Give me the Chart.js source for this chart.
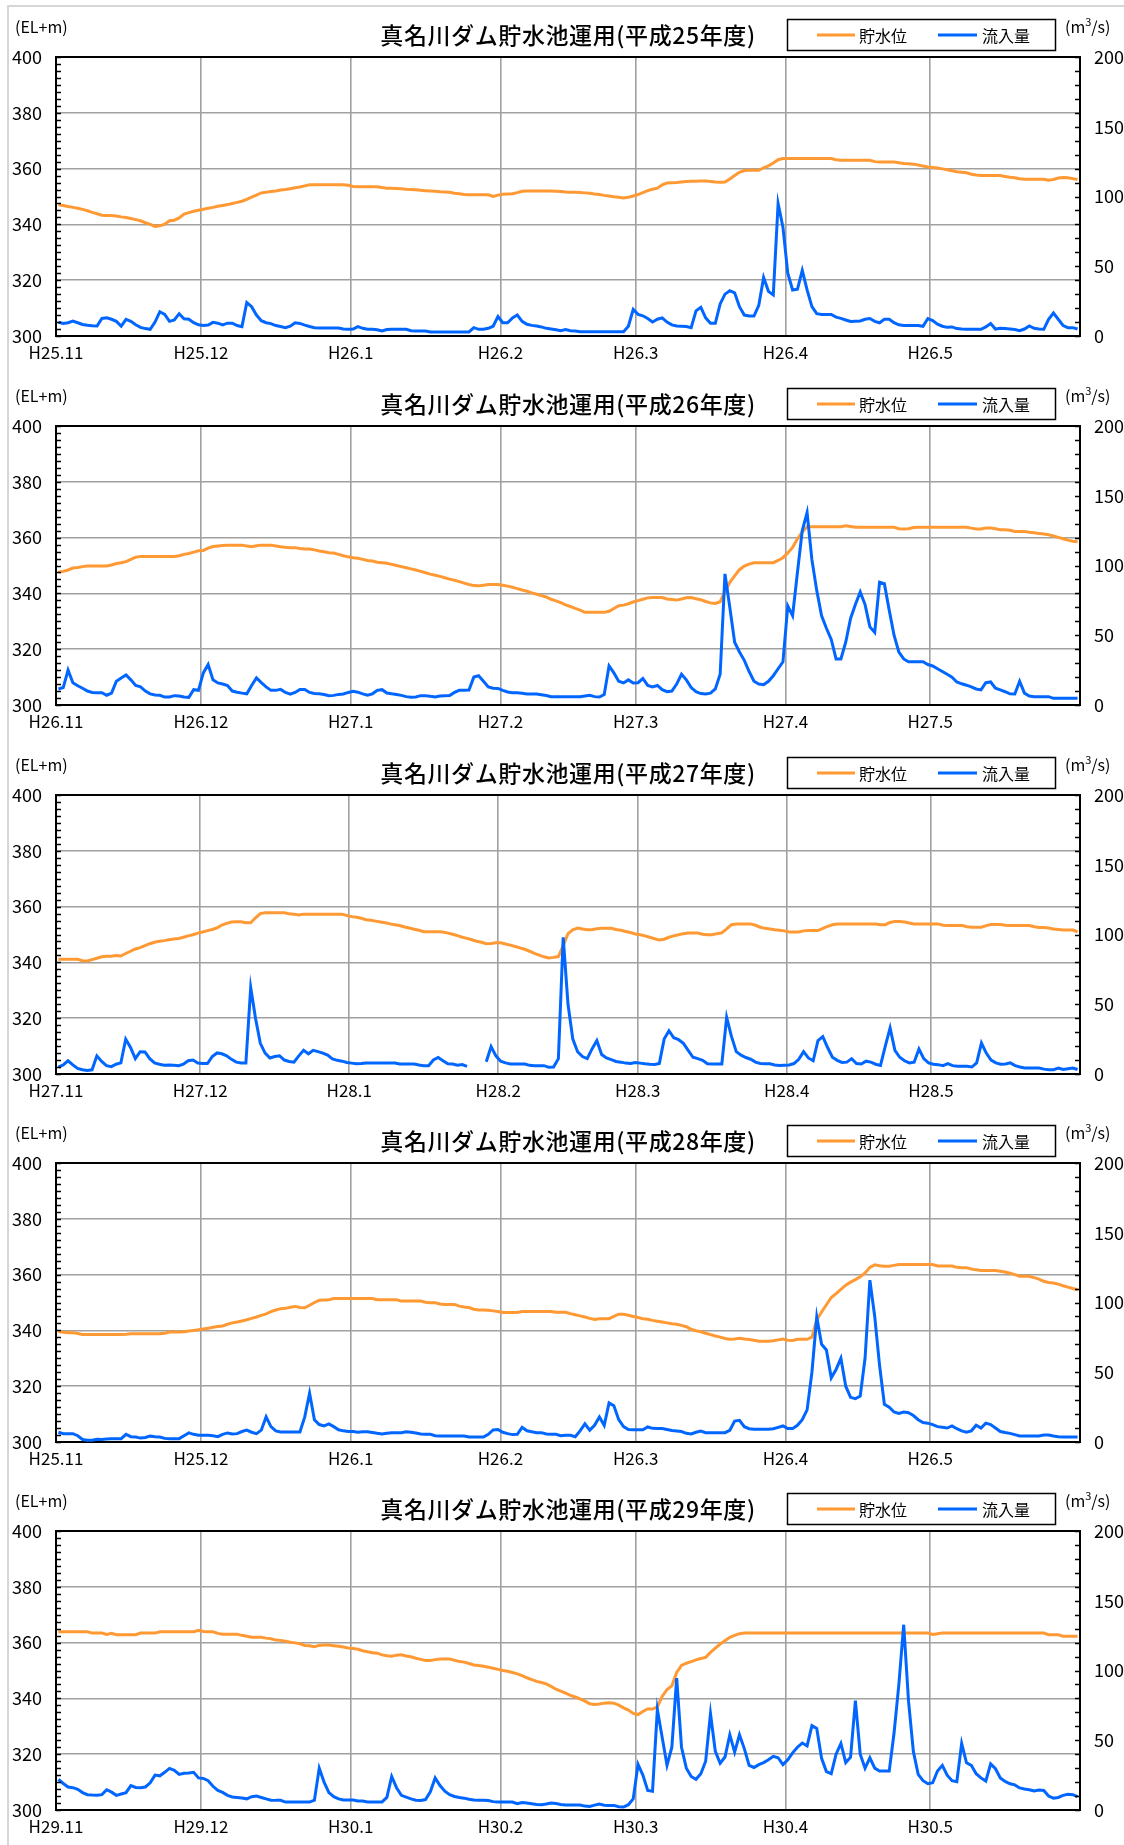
<!DOCTYPE html>
<html>
<head>
<meta charset="utf-8">
<script src="https://cdn.jsdelivr.net/npm/chart.js@4.4.1/dist/chart.umd.min.js"></script>
<style>
  html, body { margin: 0; padding: 0; background: #fff; }
  #page { position: relative; width: 1124px; height: 1845px; overflow: hidden; }
  #frame { position: absolute; left: 7px; top: 5px; width: 1130px; height: 1850px;
           border-left: 2px solid #d6d6d6; border-top: 2px solid #d6d6d6; }
  canvas.panel { position: absolute; left: 0; }
</style>
</head>
<body>
<div id="page">
  <div id="frame"></div>
  <canvas class="panel" id="c0" width="1124" height="369" style="top:0px"></canvas>
  <canvas class="panel" id="c1" width="1124" height="369" style="top:369px"></canvas>
  <canvas class="panel" id="c2" width="1124" height="369" style="top:738px"></canvas>
  <canvas class="panel" id="c3" width="1124" height="369" style="top:1106px"></canvas>
  <canvas class="panel" id="c4" width="1124" height="369" style="top:1474px"></canvas>
</div>
<script>
// ---- 年度ごとの表示設定 ----
const fiscalYears = [25, 26, 27, 28, 29];
const seriesNames = ['貯水位', '流入量'];

const monthLabels25 = ['H25.11', 'H25.12', 'H26.1', 'H26.2', 'H26.3', 'H26.4', 'H26.5'];
const monthLabels26 = ['H26.11', 'H26.12', 'H27.1', 'H27.2', 'H27.3', 'H27.4', 'H27.5'];
const monthLabels27 = ['H27.11', 'H27.12', 'H28.1', 'H28.2', 'H28.3', 'H28.4', 'H28.5'];
const monthLabels28 = ['H25.11', 'H25.12', 'H26.1', 'H26.2', 'H26.3', 'H26.4', 'H26.5'];
const monthLabels29 = ['H29.11', 'H29.12', 'H30.1', 'H30.2', 'H30.3', 'H30.4', 'H30.5'];

// 11月〜5月の各月の日数
const monthDays = [30, 31, 31, 28, 31, 30, 31];
const monthDaysLeap = [30, 31, 31, 29, 31, 30, 31];

// ---- 日別データ (貯水位 EL+m / 流入量 m3/s) ----
const level25 = [
  347,346.8,346.4,346.1,345.8,345.4,344.9,344.3,343.8,343.3,
  343.2,343.2,343.0,342.7,342.5,342.1,341.7,341.3,340.6,340.0,
  339.3,339.5,340.1,341.3,341.5,342.3,343.7,344.2,344.7,345.1,
  345.4,345.8,346.1,346.5,346.8,347.1,347.5,347.9,348.3,349.0,
  349.8,350.5,351.3,351.5,351.8,352.0,352.3,352.5,352.8,353.1,
  353.4,353.8,354.2,354.2,354.2,354.2,354.2,354.2,354.2,354.2,
  354.0,353.6,353.5,353.5,353.5,353.5,353.5,353.2,353.0,353.0,
  352.9,352.8,352.6,352.5,352.4,352.2,352.1,352.0,351.9,351.7,
  351.6,351.5,351.2,351.0,350.7,350.6,350.6,350.6,350.6,350.6,
  350.0,350.5,350.8,350.9,351.0,351.4,351.9,352.0,352.0,352.0,
  352.0,352.0,352.0,351.9,351.8,351.6,351.5,351.5,351.4,351.3,
  351.2,350.9,350.7,350.4,350.2,349.9,349.7,349.5,349.7,350.2,
  350.7,351.4,352.1,352.6,353.0,354.2,354.8,354.9,355.0,355.2,
  355.4,355.5,355.5,355.6,355.6,355.4,355.2,355.1,355.2,356.3,
  357.5,358.7,359.3,359.4,359.4,359.4,360.3,361.0,362.0,363.2,
  363.6,363.6,363.6,363.6,363.6,363.6,363.6,363.6,363.6,363.6,
  363.6,363.2,363.0,363.0,363.0,363.0,363.0,363.0,363.0,362.5,
  362.4,362.4,362.4,362.4,362.1,361.8,361.7,361.6,361.3,360.9,
  360.6,360.4,360.2,359.9,359.6,359.2,358.9,358.7,358.5,358.0,
  357.7,357.5,357.5,357.5,357.5,357.5,357.2,356.9,356.7,356.4,
  356.2,356.2,356.2,356.2,356.2,355.8,356.1,356.6,356.8,356.7,
  356.4,356.1
];
const inflow25 = [
  9.8,9,9.5,10.7,9.5,8.3,7.7,7.4,7.2,12.6,
  13,12,10.5,7,11.9,10.5,8,6.2,5.3,4.8,
  10,17.4,15.5,10.5,11.5,16,12.4,12,9.5,8,
  7.6,7.8,9.8,9.2,8,9.2,9.2,7.5,6.7,24,
  21,15,11,9.5,8.9,7.5,6.8,6,7,9.5,
  9,7.8,6.8,5.9,5.7,5.7,5.7,5.7,5.7,5,
  4.8,5,6.7,5.5,4.8,4.8,4.5,3.6,4.6,4.8,
  4.8,4.8,4.8,3.8,3.6,3.6,3.6,2.9,2.9,2.9,
  2.9,2.9,2.9,2.9,2.9,2.9,6,4.8,4.8,5.5,
  7,14,9.5,9.5,13,15,10.5,8.4,7.6,7.1,
  6.5,5.5,5,4.5,3.8,4.6,3.8,3.5,3.1,3.1,
  3.1,3.1,3.1,3.1,3.1,3.1,3.1,3.1,7,19,
  15.5,14.5,12.5,10,12,13,10,8,7.2,7,
  6.8,6,18,20.5,13,9.2,9.1,23,30,32.5,
  31,21,15,14.3,14.3,22,42,32,29.5,95,
  78,45,33,33.5,47,33,21,16,15.5,15.5,
  15.5,13.5,12.6,11.5,10.4,10.6,10.8,12,12.5,10.5,
  9.5,12,12,9.5,8,7.6,7.6,7.6,7.6,7,
  12.5,11,8.5,7,6.2,6.5,5.3,5,4.8,4.8,
  4.8,4.8,6.5,9,5,5.5,5.3,5,4.6,3.8,
  5,7.2,5.5,5,4.8,12,16.5,12,7.5,6,
  6,5
];

const level26 = [
  347.6,347.9,348.4,349.1,349.3,349.6,349.8,349.8,349.8,349.8,
  349.8,350.2,350.7,351.0,351.4,352.2,353.0,353.2,353.2,353.2,
  353.2,353.2,353.2,353.2,353.2,353.5,354.0,354.3,354.8,355.3,
  355.4,356.2,356.8,357.0,357.2,357.3,357.3,357.3,357.3,357.0,
  356.7,357.1,357.3,357.3,357.3,357.0,356.7,356.5,356.4,356.4,
  356.1,355.9,355.9,355.6,355.2,354.9,354.6,354.5,354.0,353.5,
  353.1,352.8,352.6,352.2,351.8,351.6,351.2,351.0,350.8,350.4,
  350.0,349.6,349.2,348.8,348.4,347.9,347.4,346.9,346.5,346.1,
  345.6,345.1,344.7,344.2,343.7,343.2,342.8,342.7,342.9,343.2,
  343.2,343.2,342.9,342.6,342.2,341.7,341.2,340.8,340.2,339.7,
  339.2,338.7,337.9,337.3,336.7,335.9,335.3,334.6,334.0,333.2,
  333.2,333.2,333.2,333.2,333.6,334.6,335.6,335.8,336.3,336.9,
  337.4,337.9,338.4,338.5,338.5,338.5,338.0,337.8,337.6,338.0,
  338.4,338.5,338.1,337.7,337.1,336.6,336.4,337.0,340.5,344.0,
  346.3,348.5,349.8,350.5,351.0,351.0,351.0,351.0,351.0,351.8,
  352.8,354.5,356.5,359.5,362.0,363.9,363.9,363.9,363.9,363.9,
  363.9,363.9,363.9,364.2,364.0,363.7,363.7,363.7,363.7,363.7,
  363.7,363.7,363.7,363.7,363.2,363.1,363.2,363.6,363.7,363.7,
  363.7,363.7,363.7,363.7,363.7,363.7,363.7,363.7,363.7,363.4,
  363.1,363.1,363.4,363.4,363.2,362.8,362.8,362.6,362.2,362.2,
  362.2,361.9,361.7,361.5,361.3,361.0,360.6,360.1,359.6,359.1,
  358.7,358.5
];
const inflow26 = [
  11.5,12.5,25,16,13.8,12,10,9,8.8,8.8,
  7,8.5,17,19.4,21.5,18,14,13,10,8,
  7.2,7,5.7,5.8,6.7,6.5,5.7,5.5,11,10.5,
  23,29,18,15.8,15,14,10,9.2,8.5,8,
  14,19.4,16,13,10.5,10.5,11.2,9,7.8,9,
  11.2,11.2,9,8.2,8,7.5,6.7,6.9,7.6,7.9,
  9,9.8,9.2,8,7,8,10.5,11,8.6,8,
  7.5,6.9,6,5.5,5.8,6.7,6.7,6.2,5.8,6.5,
  6.7,6.8,9,10.5,10.6,10.8,20,21,17,13,
  12,11.9,10.5,9.3,8.8,8.8,8.4,7.9,7.9,7.9,
  7.4,6.8,6,6,6,6,6,6,6,6.5,
  7,6,5.7,7.5,28,23,17,15.8,18,15.8,
  16,19,14,13,14,11,9.5,10,15,22,
  18,12.5,9.5,8.2,7.9,8.5,11.5,22,94,70,
  45,38,32,24,17,15,14.5,17,21,26,
  31,71,64,95,125,138,104,82,64,55,
  47,33,33,45,62,72,81,72,56,52,
  88,87,68,50,38,33,31,31,31,31,
  29,28,26,24,22,20,16.5,15.2,14.2,13,
  11.5,10.8,16,16.5,12,10.8,9.5,8,7.9,17,
  8.5,6.5,6,6,6,6,4.8,4.8,4.8,4.8,
  4.8,4.8
];

const level27 = [
  341.1,341.1,341.1,341.1,341.1,340.6,340.5,341.0,341.5,342.0,
  342.2,342.2,342.5,342.3,343.2,344.0,344.8,345.3,346.0,346.7,
  347.2,347.6,347.8,348.1,348.4,348.6,349.0,349.5,349.9,350.5,
  350.9,351.4,351.8,352.4,353.4,354.0,354.5,354.6,354.6,354.2,
  354.2,356.0,357.5,357.8,357.8,357.8,357.8,357.8,357.4,357.3,
  357.0,357.3,357.3,357.3,357.3,357.3,357.3,357.3,357.3,357.3,
  356.8,356.4,356.2,355.8,355.3,355.1,354.8,354.5,354.2,353.8,
  353.5,353.2,352.7,352.3,351.9,351.5,351.0,351.0,351.0,351.0,
  350.9,350.5,350.1,349.6,349.0,348.6,348.1,347.6,347.2,346.7,
  346.8,347.0,347.0,346.6,346.2,345.7,345.2,344.7,344.0,343.2,
  342.6,342.0,341.6,341.8,342.1,346.0,350.3,351.7,352.3,352.0,
  351.7,351.7,352.1,352.2,352.2,352.2,351.8,351.5,351.1,350.7,
  350.2,349.9,349.5,349.0,348.5,348.0,348.3,349.0,349.5,349.9,
  350.3,350.5,350.5,350.5,350.1,349.9,349.9,350.3,350.6,352.0,
  353.5,353.8,353.8,353.8,353.8,353.3,352.6,352.2,352.0,351.7,
  351.5,351.3,350.9,350.9,350.9,351.3,351.4,351.4,351.4,352.2,
  352.9,353.5,353.8,353.8,353.8,353.8,353.8,353.8,353.8,353.8,
  353.8,353.5,353.5,354.3,354.7,354.7,354.5,354.1,353.8,353.8,
  353.8,353.8,353.8,353.8,353.3,353.2,353.2,353.2,353.2,352.8,
  352.6,352.6,352.6,353.2,353.6,353.6,353.6,353.3,353.2,353.2,
  353.2,353.2,353.2,352.8,352.5,352.5,352.3,352.0,351.8,351.6,
  351.6,351.6,351.0
];
const inflow27 = [
  5,6.5,9.5,6.5,4,3,2.5,3,13,9,
  6,5.3,7,8,25,19,11,16,15.8,11,
  8,7,6.3,6.5,6.3,6,7,9.5,10,7.9,
  7.5,7.5,12.5,15.1,14.5,13,10.5,8.5,7.9,7.9,
  62,40,22,15,11.5,12.5,13,10,9,8.5,
  13,17,14.5,17,16,15,13.5,10.8,9.8,9.2,
  8.3,7.8,7.3,7.5,7.9,7.9,7.9,7.9,7.9,7.9,
  7.9,7.2,7.2,7.2,7.2,6.5,6,6,10,11.9,
  9.5,7.3,7.2,6.3,6.8,5.5,null,null,null,8.8,
  19.6,13,9.2,8,7.2,7.2,7.2,7.2,6.2,6,
  6,6,4.8,5,11,98,50,25,16,12.5,
  11,18,24,14,11.5,10.3,9,8.5,7.8,7.5,
  8.2,7.8,7.3,7,6.8,7.6,25,31,26,24.6,
  22,17,12,11,9.8,7.3,7.2,7.2,7.2,40.6,
  27,16,13.5,11.8,10.6,8.5,7.6,7.3,7.3,6.5,
  6.1,6.3,6.5,7.5,10.5,16,11.5,9.5,24,26.8,
  19,12,9.8,8.3,8.5,11,7.5,7.2,9.2,8.5,
  7,6.2,20,33,17,12,9.5,7.9,8.5,17.9,
  11,8,7,6.7,6,7.5,6,5.5,5.5,5.5,
  5,8,22.2,15,10,8,7,7.2,8,6,
  5,4.3,4.3,4.3,4.3,3.5,3.1,3.1,4.3,3.2,
  3.8,4.3,3.2
];

const level28 = [
  339.6,339.3,339.2,339.2,338.9,338.5,338.5,338.5,338.5,338.5,
  338.5,338.5,338.5,338.5,338.6,338.8,338.8,338.8,338.8,338.8,
  338.8,338.8,339.0,339.4,339.4,339.4,339.5,339.8,340.0,340.2,
  340.5,340.8,341.1,341.4,341.6,342.2,342.7,343.0,343.4,343.8,
  344.3,344.8,345.4,345.9,346.7,347.3,347.8,347.9,348.3,348.6,
  348.2,348.1,349.0,350.0,350.8,350.9,351.0,351.4,351.4,351.4,
  351.4,351.4,351.4,351.4,351.4,351.4,351.0,351.0,351.0,351.0,
  351.0,350.5,350.5,350.5,350.5,350.5,350.1,349.9,349.9,349.5,
  349.3,349.3,349.3,348.7,348.4,348.2,347.6,347.3,347.3,347.2,
  347.0,346.8,346.4,346.4,346.4,346.4,346.8,346.8,346.8,346.8,
  346.8,346.8,346.8,346.5,346.5,346.5,346.0,345.6,345.2,344.8,
  344.3,343.9,344.2,344.2,344.2,345.0,345.8,345.8,345.4,345.0,
  344.6,344.2,344.0,343.6,343.3,343.0,342.7,342.4,342.2,341.8,
  341.3,340.4,339.9,339.5,339.0,338.5,338.0,337.6,337.1,336.8,
  336.9,337.2,336.9,336.7,336.5,336.1,336.1,336.1,336.3,336.6,
  336.9,336.5,336.4,336.8,336.8,336.8,337.6,343.8,346.6,349.2,
  351.8,353.2,354.7,356.2,357.3,358.2,359.2,360.6,362.6,363.5,
  363.2,363.0,363.0,363.3,363.6,363.6,363.6,363.6,363.6,363.6,
  363.6,363.6,363.1,363.1,363.1,363.1,362.6,362.5,362.5,362.0,
  361.7,361.5,361.5,361.5,361.5,361.2,360.9,360.5,360.0,359.4,
  359.4,359.4,358.9,358.4,357.6,357.2,357.0,356.6,356.0,355.5,
  355.0,354.6
];
const inflow28 = [
  7,6,6,6,4.5,1.8,1.2,1.2,2,1.8,
  2.2,2.4,2.4,2.4,5.5,3.8,3.6,2.8,3.2,4.2,
  3.8,3.6,2.6,2.4,2.4,2.4,4.5,6.5,5.5,4.8,
  4.8,4.8,4.5,3.8,5.5,6.5,5.8,6,7.5,8.5,
  7,6,8.5,18,11,8,7.2,7.2,7.2,7.2,
  7.2,18,35,16,12.5,11.5,13,11,8.8,8,
  7.6,7.6,7,7.3,7.3,6.8,6.2,5.7,6.2,6.7,
  6.7,6.7,7.4,7,6.4,5.7,5.5,5.5,4.5,4.3,
  4.3,4.3,4.3,4.3,4.3,3.6,3.6,3.6,3.6,5.5,
  8.6,9,7,6,5.3,5.5,10.5,8,7.3,6.7,
  6.7,5.7,5.5,5.5,4.5,4.8,4.8,3.8,8,13,
  8.5,12,18,12,28,26,16,11,9,8.8,
  8.8,8.8,10.8,9.8,9.6,9.6,9,8.2,7.9,7.5,
  6.2,5.8,7,7.8,6.7,6.7,6.7,6.7,6.7,8.4,
  15,15.5,11,9.5,9.1,9.1,9.1,9.1,9.5,10.5,
  11.5,9.6,9.6,12,16,23,50,89.6,70,66,
  46,52,60,40,32,31,33,60,116,90,
  55,27,25,21.5,20.5,21.5,21,19,16,14,
  13.5,12.5,11,10.5,10,11.5,9.5,8,7,8,
  12,10,13.5,12.5,10,7.5,6.8,6.2,5.3,4.3,
  4.3,4.3,4.3,4.3,5,5,4.3,3.8,3.6,3.6,
  3.6,3.6
];

const level29 = [
  363.9,363.9,363.9,363.9,363.9,363.9,363.9,363.4,363.4,363.4,
  362.9,363.3,362.8,362.8,362.8,362.8,362.8,363.4,363.4,363.4,
  363.4,363.9,363.9,363.9,363.9,363.9,363.9,363.9,363.9,364.4,
  364.0,363.9,363.9,363.3,363.0,363.0,363.0,363.0,362.6,362.3,
  361.9,361.9,361.9,361.6,361.4,360.9,360.8,360.5,360.1,359.9,
  359.6,359.0,358.9,358.5,359.0,359.1,359.1,358.9,358.7,358.4,
  358.1,357.9,357.6,357.1,356.7,356.4,356.2,355.6,355.3,355.1,
  355.5,355.6,355.2,354.9,354.4,354.0,353.6,353.6,353.9,354.1,
  354.1,354.1,353.7,353.2,353.0,352.5,352.0,351.8,351.5,351.2,
  350.8,350.4,350.0,349.7,349.3,348.8,348.2,347.4,346.7,346.1,
  345.7,345.2,344.3,343.3,342.6,341.9,341.1,340.5,339.8,339.0,
  338.1,337.8,338.0,338.3,338.4,338.3,337.6,336.6,335.8,334.6,
  334.2,335.3,336.2,336.2,337.0,340.7,343.2,344.5,349.3,351.8,
  352.6,353.2,353.8,354.3,354.7,356.5,358.0,359.5,360.7,361.9,
  362.6,363.2,363.4,363.4,363.4,363.4,363.4,363.4,363.4,363.4,
  363.4,363.4,363.4,363.4,363.4,363.4,363.4,363.4,363.4,363.4,
  363.4,363.4,363.4,363.4,363.4,363.4,363.4,363.4,363.4,363.4,
  363.4,363.4,363.4,363.4,363.4,363.4,363.4,363.4,363.4,363.4,
  363.4,362.9,363.2,363.4,363.4,363.4,363.4,363.4,363.4,363.4,
  363.4,363.4,363.4,363.4,363.4,363.4,363.4,363.4,363.4,363.4,
  363.4,363.4,363.4,363.4,363.4,362.8,362.8,362.8,362.3,362.3,
  362.3,362.3
];
const inflow29 = [
  22,19,16.5,16,14.8,12.5,11,10.7,10.5,11,
  14.5,12.8,10.5,11.5,12.4,17.5,16.2,16,16.5,19.5,
  25,24.5,27,29.8,28.5,25.5,26.3,26.5,27,23,
  22.6,21,17,14,12.6,10.5,9.3,9,8.6,8,
  9.5,10,9,8,7,6.9,6.9,5.7,5.7,5.7,
  5.7,5.7,5.7,7,30,20,12.5,9.5,8,7.2,
  7.1,7.1,6.5,6.4,5.8,5.8,5.8,5.8,9,24,
  16,10.5,9.2,8,7,6.9,7.5,13,23,17.5,
  13.5,11,9.7,9,8.5,7.7,7.2,7,7,6.8,
  6,5.7,5.7,5.7,5.7,4.5,5.3,5,4.5,4,
  3.7,4.3,5,4.6,3.9,3.6,3.6,3.6,3.6,2.8,
  2.6,3.5,4.3,3.4,3.3,3.3,2.3,2.1,3.8,8,
  32.7,25,14,13.5,72,52,32,45,94.6,45,
  30,24,22,26,35,69,42,33.5,38,54,
  41.5,54,44,32,30.5,32.5,34,36,38.5,37.5,
  32.5,36,41,45,48,46,60.5,58.4,37,27.5,
  26,40,47.7,34,37.9,78.4,40,30,37.4,30,
  28,27.9,27.9,55,90,132.8,78,42,25.5,21,
  18.8,19.5,28,32,25,21,20.3,47.7,33.8,32,
  26,23,20.7,33,29.6,23,20.5,18.8,18,15.8,
  15,14.5,13.6,14.3,14,10,8.5,9,10.5,11.2,
  11,9.5
];

// ---- 描画 ----
const COLOR_LEVEL = '#FF9933';
const COLOR_INFLOW = '#0066FF';
const GRID_COLOR = '#a0a0a0';
const FONT = '"Noto Sans CJK JP", "Noto Sans", sans-serif';

Chart.defaults.font.family = FONT;
Chart.defaults.color = '#000';

const panels = [
  { year: fiscalYears[0], labels: monthLabels25, days: monthDays,     level: level25, inflow: inflow25 },
  { year: fiscalYears[1], labels: monthLabels26, days: monthDays,     level: level26, inflow: inflow26 },
  { year: fiscalYears[2], labels: monthLabels27, days: monthDaysLeap, level: level27, inflow: inflow27 },
  { year: fiscalYears[3], labels: monthLabels28, days: monthDays,     level: level28, inflow: inflow28 },
  { year: fiscalYears[4], labels: monthLabels29, days: monthDays,     level: level29, inflow: inflow29 }
];

function monthStarts(days) {
  const starts = [0];
  for (let i = 0; i < days.length - 1; i++) starts.push(starts[i] + days[i]);
  return starts;
}

function daily(values) {
  return values.map((v, i) => ({ x: i + 0.5, y: v }));
}

// 枠線・補助目盛・タイトル・凡例・単位
const panelDecor = {
  id: 'panelDecor',
  afterDraw(chart, args, opts) {
    const { ctx, chartArea: a } = chart;
    const yL = chart.scales.yL, yR = chart.scales.yR;
    ctx.save();

    ctx.strokeStyle = '#000';
    ctx.lineWidth = 2;
    ctx.beginPath();
    ctx.moveTo(a.left - 1, a.top);
    ctx.lineTo(a.right + 1, a.top);
    ctx.stroke();

    ctx.lineWidth = 1.5;
    ctx.beginPath();
    for (let v = 300; v <= 400; v += 2.5) {
      const y = Math.round(yL.getPixelForValue(v)) + 0.5;
      ctx.moveTo(a.left, y);
      ctx.lineTo(a.left + 5, y);
    }
    for (let v = 0; v <= 200; v += 10) {
      const y = Math.round(yR.getPixelForValue(v)) + 0.5;
      ctx.moveTo(a.right, y);
      ctx.lineTo(a.right - 5, y);
    }
    ctx.stroke();

    ctx.fillStyle = '#000';
    ctx.textBaseline = 'middle';

    ctx.font = '500 23px ' + FONT;
    ctx.textAlign = 'center';
    if ('letterSpacing' in ctx) ctx.letterSpacing = '0.6px';
    ctx.fillText(opts.title, (a.left + a.right) / 2, a.top - 22);
    if ('letterSpacing' in ctx) ctx.letterSpacing = '0px';

    ctx.font = '16px ' + FONT;
    ctx.textAlign = 'left';
    ctx.fillText('(EL+m)', 15, a.top - 30);
    const ux = 1065, uy = a.top - 30;
    ctx.fillText('(m', ux, uy);
    let w = ctx.measureText('(m').width;
    ctx.font = '11px ' + FONT;
    ctx.fillText('3', ux + w, uy - 5);
    const w3 = ctx.measureText('3').width;
    ctx.font = '16px ' + FONT;
    ctx.fillText('/s)', ux + w + w3, uy);

    // 凡例
    const bx = 787, by = a.top - 38, bw = 268, bh = 31;
    ctx.lineWidth = 1.5;
    ctx.strokeStyle = '#000';
    ctx.strokeRect(bx + 0.5, by + 0.5, bw, bh);
    const items = [
      { x1: 817, x2: 855, tx: 859 },
      { x1: 938, x2: 977, tx: 982 }
    ];
    ctx.font = '16px ' + FONT;
    chart.data.datasets.slice().sort((p, q) => p.legendIndex - q.legendIndex).forEach((ds, i) => {
      const it = items[i];
      const ly = by + bh / 2 + 0.5;
      ctx.strokeStyle = ds.borderColor;
      ctx.lineWidth = 3;
      ctx.beginPath();
      ctx.moveTo(it.x1, ly);
      ctx.lineTo(it.x2, ly);
      ctx.stroke();
      ctx.fillStyle = '#000';
      ctx.fillText(ds.label, it.tx, ly + 1);
    });

    ctx.restore();
  }
};

panels.forEach((p, idx) => {
  const starts = monthStarts(p.days);
  const total = p.days.reduce((s, d) => s + d, 0);
  const ctx = document.getElementById('c' + idx).getContext('2d');
  new Chart(ctx, {
    type: 'line',
    data: {
      datasets: [
        {
          label: seriesNames[0], legendIndex: 0, yAxisID: 'yL', order: 1,
          data: daily(p.level), borderColor: COLOR_LEVEL, borderWidth: 3,
          pointRadius: 0, tension: 0, spanGaps: false
        },
        {
          label: seriesNames[1], legendIndex: 1, yAxisID: 'yR', order: 0,
          data: daily(p.inflow), borderColor: COLOR_INFLOW, borderWidth: 3,
          pointRadius: 0, tension: 0, spanGaps: false
        }
      ]
    },
    options: {
      responsive: false,
      animation: false,
      devicePixelRatio: 1,
      events: [],
      layout: { padding: { top: 57, left: 0, right: 0, bottom: 0 } },
      plugins: {
        legend: { display: false },
        tooltip: { enabled: false },
        panelDecor: { title: '真名川ダム貯水池運用(平成' + p.year + '年度)' }
      },
      scales: {
        x: {
          type: 'linear', min: 0, max: total,
          afterBuildTicks: (scale) => { scale.ticks = starts.map(v => ({ value: v })); },
          afterFit: (scale) => { scale.height = 33; },
          ticks: {
            autoSkip: false, maxRotation: 0, padding: 6,
            font: { size: 17 },
            callback: (v, i) => p.labels[i]
          },
          grid: {
            drawTicks: false, lineWidth: 1.6,
            color: (c) => (c.tick && c.tick.value === 0) ? 'rgba(0,0,0,0)' : GRID_COLOR
          },
          border: { color: '#000', width: 2 }
        },
        yL: {
          position: 'left', min: 300, max: 400,
          afterFit: (scale) => { scale.width = 56; },
          ticks: { stepSize: 20, padding: 14, font: { size: 18 } },
          grid: {
            drawTicks: false, lineWidth: 1.6,
            color: (c) => (c.tick && (c.tick.value === 300 || c.tick.value === 400)) ? 'rgba(0,0,0,0)' : GRID_COLOR
          },
          border: { color: '#000', width: 2 }
        },
        yR: {
          position: 'right', min: 0, max: 200,
          afterFit: (scale) => { scale.width = 44; },
          ticks: { stepSize: 50, padding: 14, font: { size: 18 } },
          grid: { display: false, drawTicks: false },
          border: { color: '#000', width: 2 }
        }
      }
    },
    plugins: [panelDecor]
  });
});
</script>
</body>
</html>
